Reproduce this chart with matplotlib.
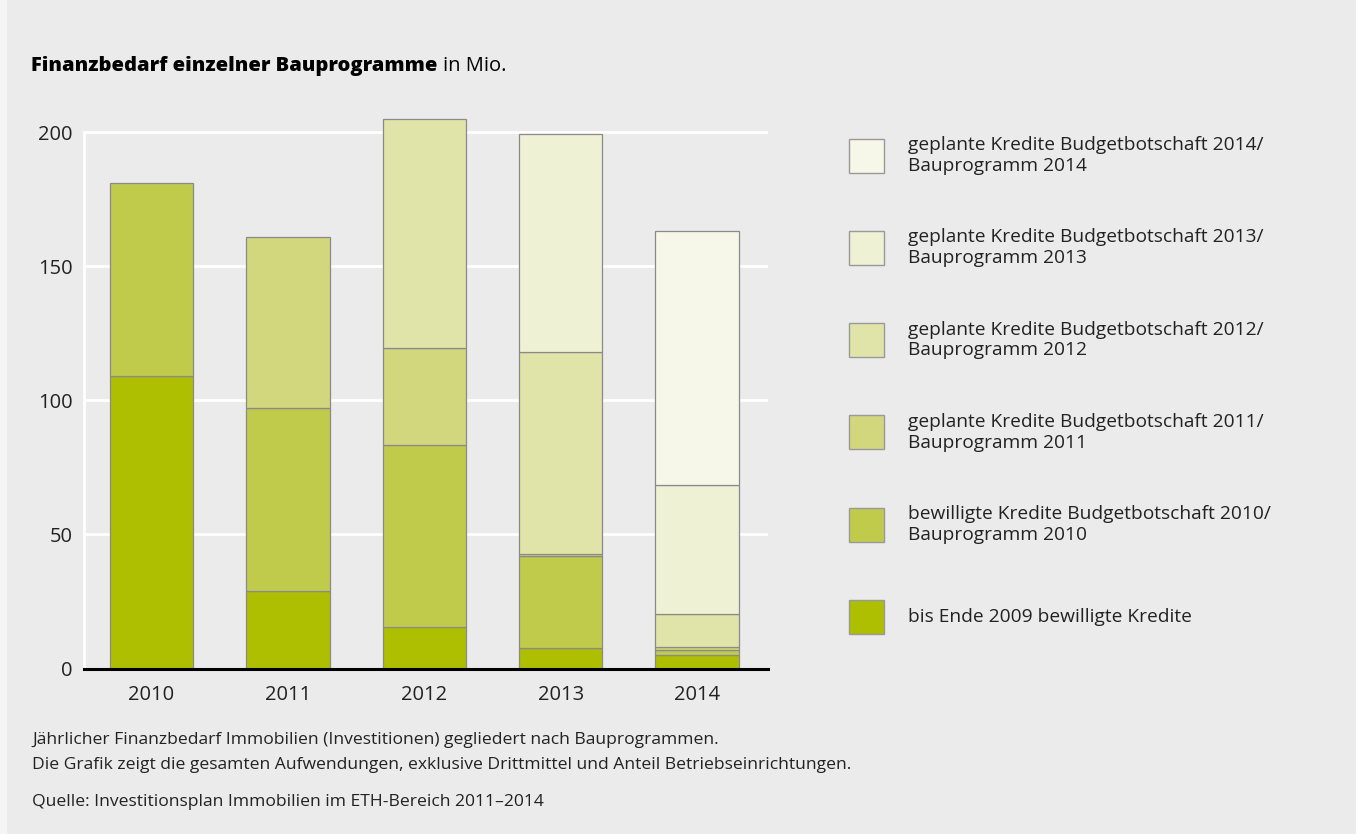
import numpy as np
import matplotlib.pyplot as plt
from matplotlib.patches import Rectangle

plt.rcParams['font.family'] = ['Open Sans', 'DejaVu Sans']

years = ['2010', '2011', '2012', '2013', '2014']

# Mio. per Bauprogramm, von unten nach oben gestapelt
bis2009 = [109, 29, 15.5, 7.5, 5]
bew2010 = [72, 68, 68, 34.5, 2]
gep2011 = [0, 64, 36, 0.7, 1]
gep2012 = [0, 0, 85.5, 75.5, 12.5]
gep2013 = [0, 0, 0, 81, 48]
gep2014 = [0, 0, 0, 0, 94.5]

series = [bis2009, bew2010, gep2011, gep2012, gep2013, gep2014]
colors = ['#aebe00', '#c1cb4b', '#d2d77d', '#e0e4a9', '#eef1d4', '#f6f7e8']
labels = ['bis Ende 2009 bewilligte Kredite',
          'bewilligte Kredite Budgetbotschaft 2010/\nBauprogramm 2010',
          'geplante Kredite Budgetbotschaft 2011/\nBauprogramm 2011',
          'geplante Kredite Budgetbotschaft 2012/\nBauprogramm 2012',
          'geplante Kredite Budgetbotschaft 2013/\nBauprogramm 2013',
          'geplante Kredite Budgetbotschaft 2014/\nBauprogramm 2014']

bg = '#ebebeb'
W, H = 1356, 834
fig = plt.figure(figsize=(W / 100, H / 100), dpi=100, facecolor='#f5f5f5')
fig.add_artist(Rectangle((7 / W, 0), 1, 1, transform=fig.transFigure,
                         facecolor=bg, edgecolor='none', zorder=-10))

# 200 liegt bei y=132.3 px, 0 bei 668.5 px
ppu = (668.5 - 132.3) / 200
ytop = 212
ax = fig.add_axes([84 / W, 1 - 668.5 / H, (768 - 84) / W, ytop * ppu / H])
ax.set_facecolor('none')

x = np.arange(len(years))
bottom = np.zeros(len(years))
for vals, c in zip(series, colors):
    v = np.array(vals, dtype=float)
    m = v > 0
    ax.bar(x[m], v[m], bottom=bottom[m], width=0.61, color=c,
           edgecolor='#8a8a8a', linewidth=0.9, zorder=3)
    bottom += v

ax.set_xlim(-0.495, 4.52)
ax.set_ylim(0, ytop)
ax.set_yticks([0, 50, 100, 150, 200])
ax.set_xticks(x)
ax.set_xticklabels(years)
ax.grid(axis='y', color='white', linewidth=2, zorder=0)
ax.tick_params(length=0, labelsize=14.5, colors='#222222')
ax.tick_params(axis='x', pad=12)
ax.tick_params(axis='y', pad=8)
for s in ['top', 'right']:
    ax.spines[s].set_visible(False)
ax.spines['left'].set_color('white')
ax.spines['left'].set_linewidth(2)
ax.spines['left'].set_bounds(0, 200)
ax.spines['bottom'].set_color('black')
ax.spines['bottom'].set_linewidth(2.2)
ax.spines['bottom'].set_zorder(5)

# Legende
ys = [616.9, 524.6, 432.3, 340, 247.8, 155.5]
for yy, c, lab in zip(ys, colors, labels):
    fig.add_artist(Rectangle((849 / W, 1 - (yy + 17) / H), 35 / W, 34 / H,
                             transform=fig.transFigure, facecolor=c,
                             edgecolor='#999999', linewidth=1))
    fig.text(908 / W, 1 - yy / H, lab, fontsize=13.8, va='center', ha='left',
             color='#222222', linespacing=1.2)

# Titel
t1 = fig.text(31 / W, 1 - 71 / H, 'Finanzbedarf einzelner Bauprogramme',
              fontsize=14.5, fontweight='heavy', va='baseline', color='black')
fig.canvas.draw()
bb = t1.get_window_extent()
fig.text((bb.x1 + 6) / W, 1 - 71 / H, 'in Mio.', fontsize=14.5,
         va='baseline', color='black')

fig.text(32 / W, 1 - 740 / H,
         'Jährlicher Finanzbedarf Immobilien (Investitionen) gegliedert nach Bauprogrammen.',
         fontsize=12.6, va='center', color='#222222')
fig.text(32 / W, 1 - 765 / H,
         'Die Grafik zeigt die gesamten Aufwendungen, exklusive Drittmittel und Anteil Betriebseinrichtungen.',
         fontsize=12.6, va='center', color='#222222')
fig.text(32 / W, 1 - 802 / H,
         'Quelle: Investitionsplan Immobilien im ETH-Bereich 2011–2014',
         fontsize=12.6, va='center', color='#222222')

fig.savefig('out.png', dpi=100, facecolor=fig.get_facecolor())
